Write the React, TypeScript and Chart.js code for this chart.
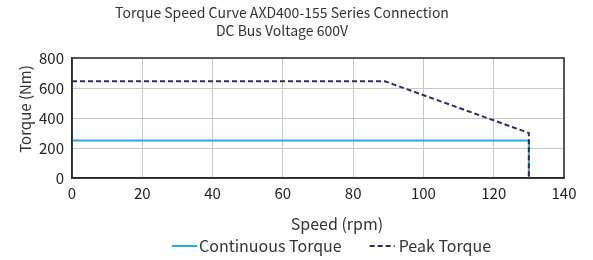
import React, { useEffect, useRef } from "react";
import { Chart, registerables } from "chart.js";

Chart.register(...registerables);

const titleLines = ["Torque Speed Curve AXD400-155 Series Connection", "DC Bus Voltage 600V"];
const xAxisTitle = "Speed (rpm)";
const yAxisTitle = "Torque (Nm)";
const continuousSpeed = [0, 130, 130];
const continuousTorque = [250, 250, 0];
const peakSpeed = [0, 89, 130, 130];
const peakTorque = [645, 645, 300, 0];
const xTicksMax = 140;
const xTickStep = 20;
const yTicksMax = 800;
const yTickStep = 200;

const FONT = "'Noto Sans CJK SC', 'Noto Sans', sans-serif";
const TEXT = "#333";

const frame = {
  id: "frame",
  afterDatasetsDraw(chart: any) {
    const { ctx, chartArea } = chart;
    ctx.save();
    ctx.strokeStyle = "#2a2a2a";
    ctx.lineWidth = 1.5;
    ctx.strokeRect(chartArea.left, chartArea.top, chartArea.right - chartArea.left, chartArea.bottom - chartArea.top);
    ctx.restore();
  },
};

const axisTitles = {
  id: "axisTitles",
  afterDraw(chart: any) {
    const { ctx, chartArea } = chart;
    const cx = (chartArea.left + chartArea.right) / 2;
    const cy = (chartArea.top + chartArea.bottom) / 2;
    ctx.save();
    ctx.fillStyle = TEXT;
    ctx.textAlign = "center";
    ctx.textBaseline = "middle";
    ctx.font = `16px ${FONT}`;
    ctx.fillText(xAxisTitle, cx + 19, chartArea.bottom + 46);
    ctx.font = `15px ${FONT}`;
    ctx.translate(25, cy - 9);
    ctx.rotate(-Math.PI / 2);
    ctx.fillText(yAxisTitle, 0, 0);
    ctx.restore();
  },
};

const lineLegend = {
  id: "lineLegend",
  afterDraw(chart: any) {
    const { ctx, chartArea } = chart;
    const order = [1, 0];
    const y = 246;
    let x = chartArea.left + 100;
    ctx.save();
    ctx.font = `16px ${FONT}`;
    ctx.textBaseline = "middle";
    ctx.textAlign = "left";
    order.forEach((idx, k) => {
      const ds = chart.data.datasets[idx];
      ctx.beginPath();
      ctx.strokeStyle = ds.borderColor;
      ctx.lineWidth = 2;
      ctx.setLineDash(ds.borderDash || []);
      ctx.moveTo(x, y);
      ctx.lineTo(x + 25, y);
      ctx.stroke();
      ctx.setLineDash([]);
      x += 25 + (k === 0 ? 2 : 4);
      ctx.fillStyle = TEXT;
      ctx.fillText(ds.label, x, y);
      x += ctx.measureText(ds.label).width + 28;
    });
    ctx.restore();
  },
};

export default function App() {
  const ref = useRef<HTMLCanvasElement>(null);
  useEffect(() => {
    const chart = new Chart(ref.current!, {
      type: "scatter",
      data: {
        datasets: [
          {
            label: "Peak Torque",
            data: peakSpeed.map((x, i) => ({ x, y: peakTorque[i] })),
            showLine: true,
            borderColor: "#2b2e5f",
            backgroundColor: "#2b2e5f",
            borderWidth: 2,
            borderDash: [5, 3],
            pointRadius: 0,
          },
          {
            label: "Continuous Torque",
            data: continuousSpeed.map((x, i) => ({ x, y: continuousTorque[i] })),
            showLine: true,
            borderColor: "#29aae1",
            backgroundColor: "#29aae1",
            borderWidth: 2,
            pointRadius: 0,
          },
        ],
      },
      options: {
        animation: false,
        responsive: true,
        maintainAspectRatio: false,
        layout: { padding: { left: 0, right: 29, top: 0, bottom: 26 } },
        plugins: {
          title: {
            display: true,
            text: titleLines,
            color: TEXT,
            font: { family: FONT, size: 14, weight: "normal", lineHeight: 1.25 },
            padding: { top: 4, bottom: 19 },
          },
          legend: { display: false },
          tooltip: { enabled: false },
        },
        scales: {
          x: {
            type: "linear",
            min: 0,
            max: xTicksMax,
            afterFit: (s: any) => { s.height = 56; },
            ticks: { stepSize: xTickStep, color: "#222", font: { family: FONT, size: 15, lineHeight: 1.2 }, padding: 6, maxRotation: 0 },
            grid: { color: "#c8c8c8", drawTicks: false },
            border: { color: "#2a2a2a", width: 1.5 },
          },
          y: {
            type: "linear",
            min: 0,
            max: yTicksMax,
            afterFit: (s: any) => { s.width = 72; },
            ticks: { stepSize: yTickStep, color: "#222", font: { family: FONT, size: 15, lineHeight: 1.2 }, padding: 8 },
            grid: { color: "#c8c8c8", drawTicks: false },
            border: { color: "#2a2a2a", width: 1.5 },
          },
        },
      },
      plugins: [frame, axisTitles, lineLegend],
    });
    return () => chart.destroy();
  }, []);
  return (
    <div style={{ position: "fixed", left: 0, top: 0, width: 593, height: 260 }}>
      <canvas ref={ref} />
    </div>
  );
}
